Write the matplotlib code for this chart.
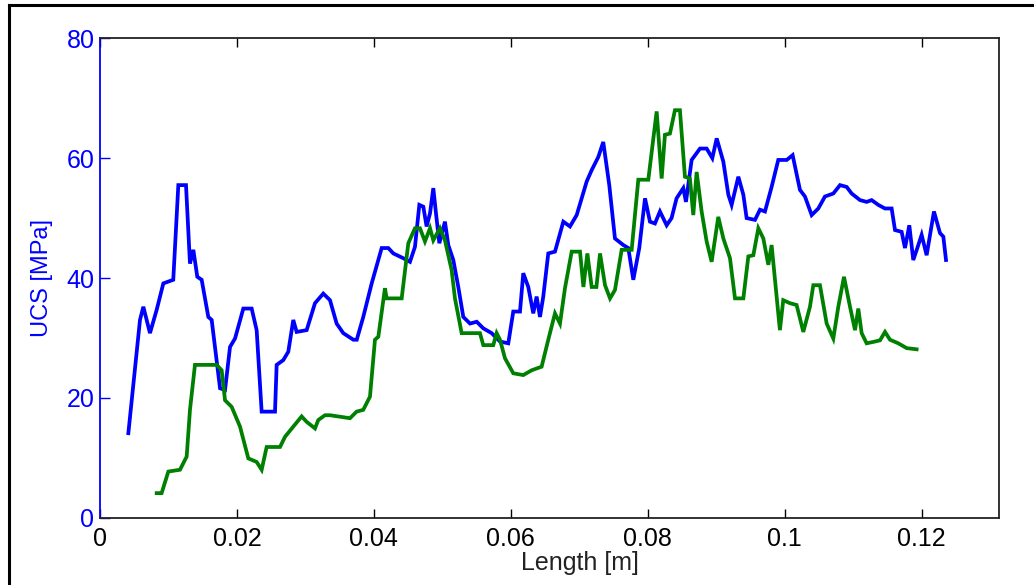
import matplotlib
matplotlib.use("Agg")
import matplotlib.pyplot as plt
from matplotlib.lines import Line2D

plt.rcParams['font.family'] = ['Liberation Sans', 'DejaVu Sans']

# Blue series: UCS along length
blue_x = [0.00414, 0.00584, 0.00633, 0.0073, 0.00828, 0.00925, 0.0107, 0.01144, 0.01256,
          0.01314, 0.01363, 0.01421, 0.01485, 0.01582, 0.01631, 0.01753, 0.01826, 0.01899,
          0.01972, 0.02093, 0.02215, 0.02288, 0.02361, 0.02556, 0.0258, 0.02677, 0.0275,
          0.02823, 0.02872, 0.03018, 0.0314, 0.03261, 0.03359, 0.03456, 0.03553, 0.037,
          0.0375, 0.03845, 0.03968, 0.04114, 0.04211, 0.04284, 0.0443, 0.04527, 0.046,
          0.04664, 0.04722, 0.0477, 0.0482, 0.04868, 0.04907, 0.04956, 0.05038, 0.05087,
          0.0516, 0.05233, 0.05306, 0.05404, 0.05502, 0.05598, 0.0572, 0.05842, 0.05963,
          0.06036, 0.06134, 0.06182, 0.06255, 0.06328, 0.06377, 0.06426, 0.06474, 0.06547,
          0.06645, 0.06767, 0.06864, 0.06962, 0.07035, 0.07108, 0.07181, 0.07278, 0.0735,
          0.07438, 0.07521, 0.07643, 0.07716, 0.07789, 0.07876, 0.0796, 0.08032, 0.08105,
          0.08178, 0.08276, 0.08348, 0.08421, 0.08519, 0.08558, 0.08641, 0.08763, 0.0886,
          0.08943, 0.09007, 0.09104, 0.09177, 0.09225, 0.09323, 0.09396, 0.09444, 0.09566,
          0.09639, 0.09712, 0.09809, 0.09906, 0.1003, 0.10116, 0.10223, 0.10296, 0.10394,
          0.10491, 0.10588, 0.1071, 0.10808, 0.10905, 0.10978, 0.111, 0.11197, 0.1127,
          0.11367, 0.11465, 0.11562, 0.11611, 0.11708, 0.11757, 0.1182, 0.11878, 0.11937,
          0.12, 0.12073, 0.1218, 0.12268, 0.12317, 0.12356]
blue_y = [14.1, 33.0, 35.2, 30.8, 34.7, 39.1, 39.7, 55.5, 55.5,
          42.4, 44.7, 40.2, 39.7, 33.5, 33.0, 21.6, 21.3, 28.5,
          29.9, 34.9, 34.9, 31.3, 17.7, 17.7, 25.5, 26.3, 27.7,
          33.0, 31.0, 31.3, 35.8, 37.4, 36.3, 32.4, 30.8, 29.7,
          29.7, 33.5, 39.1, 45.0, 45.0, 44.1, 43.3, 42.7, 45.2,
          52.2, 51.9, 48.6, 50.8, 55.0, 50.8, 45.8, 49.4, 45.5,
          43.0, 38.5, 33.5, 32.4, 32.7, 31.6, 30.8, 29.4, 29.1,
          34.4, 34.4, 40.8, 38.5, 34.1, 36.9, 33.5, 36.9, 44.1,
          44.4, 49.4, 48.6, 50.5, 53.3, 56.1, 58.0, 60.2, 62.7,
          55.5, 46.6, 45.5, 45.0, 39.7, 45.0, 53.3, 49.4, 49.1,
          51.1, 48.8, 50.0, 53.3, 55.0, 52.7, 59.7, 61.6, 61.6,
          60.0, 63.3, 59.4, 53.9, 52.2, 56.9, 53.9, 50.0, 49.7,
          51.4, 51.1, 55.2, 59.7, 59.7, 60.5, 54.7, 53.6, 50.5,
          51.6, 53.6, 54.1, 55.5, 55.2, 54.1, 53.0, 52.7, 53.0,
          52.2, 51.6, 51.6, 48.0, 47.7, 45.0, 48.8, 43.0, 45.0,
          47.2, 43.8, 51.1, 47.5, 46.9, 43.0]

# Green series
green_x = [0.00828, 0.009, 0.00998, 0.01168, 0.01266, 0.01314, 0.01387, 0.01704, 0.01777,
           0.01826, 0.01923, 0.02045, 0.02166, 0.02288, 0.02361, 0.02434, 0.02629, 0.02702,
           0.02823, 0.02945, 0.03018, 0.0314, 0.03188, 0.03286, 0.03359, 0.03651, 0.03748,
           0.03845, 0.03943, 0.04016, 0.04065, 0.04162, 0.04187, 0.04406, 0.04503, 0.046,
           0.04673, 0.04746, 0.0482, 0.04868, 0.04965, 0.05038, 0.05136, 0.05184, 0.05282,
           0.05549, 0.05598, 0.05744, 0.05793, 0.05842, 0.05915, 0.06036, 0.06182, 0.06304,
           0.0645, 0.06547, 0.06645, 0.06718, 0.06791, 0.06889, 0.07011, 0.0706, 0.07118,
           0.07181, 0.0725, 0.07303, 0.07376, 0.07449, 0.07521, 0.07619, 0.07765, 0.07862,
           0.08008, 0.0813, 0.08203, 0.08251, 0.08324, 0.08397, 0.0847, 0.08543, 0.08616,
           0.08665, 0.08714, 0.08787, 0.0886, 0.08933, 0.0903, 0.09104, 0.09201, 0.09274,
           0.09396, 0.09469, 0.09542, 0.09615, 0.09688, 0.09761, 0.09809, 0.0993, 0.09979,
           0.10076, 0.10174, 0.10272, 0.10369, 0.10418, 0.10515, 0.10613, 0.1071, 0.10783,
           0.10866, 0.10954, 0.11027, 0.11075, 0.11124, 0.11197, 0.11319, 0.11392, 0.11465,
           0.11538, 0.11659, 0.11781, 0.11927]
green_y = [4.1, 4.1, 7.7, 8.0, 10.2, 18.0, 25.5, 25.5, 24.6,
           19.6, 18.5, 15.2, 9.9, 9.3, 8.0, 11.8, 11.8, 13.5,
           15.2, 16.9, 16.0, 14.9, 16.3, 17.1, 17.1, 16.6, 17.7,
           18.0, 20.2, 29.7, 30.2, 38.3, 36.6, 36.6, 45.8, 48.3,
           48.3, 46.1, 48.3, 46.3, 48.3, 46.3, 41.3, 36.6, 30.8,
           30.8, 28.8, 28.8, 30.8, 29.7, 26.6, 24.1, 23.8, 24.6,
           25.2, 29.7, 34.1, 32.4, 38.3, 44.4, 44.4, 38.5, 44.1,
           38.5, 38.5, 44.1, 38.8, 36.6, 38.0, 44.7, 44.7, 56.4,
           56.4, 67.8, 56.6, 63.9, 64.1, 68.0, 68.0, 56.9, 56.6,
           50.5, 57.7, 51.1, 46.1, 42.7, 50.2, 46.6, 43.3, 36.6,
           36.6, 43.6, 43.8, 48.3, 46.6, 42.2, 45.5, 31.3, 36.3,
           35.8, 35.5, 31.0, 35.2, 38.8, 38.8, 32.4, 29.9, 35.2,
           40.2, 35.2, 31.3, 34.9, 30.8, 29.1, 29.4, 29.6, 31.0,
           29.7, 29.1, 28.3, 28.1]

x_ticks = [0, 0.02, 0.04, 0.06, 0.08, 0.1, 0.12]
x_tick_labels = ["0", "0.02", "0.04", "0.06", "0.08", "0.1", "0.12"]
y_ticks = [0, 20, 40, 60, 80]
y_tick_labels = ["0", "20", "40", "60", "80"]

W, H = 1034, 585
fig = plt.figure(figsize=(W / 100, H / 100), dpi=100)
ax = fig.add_axes([100 / W, 1 - 517.7 / H, (999 - 100) / W, (517.7 - 38.3) / H])

ax.plot(blue_x, blue_y, color=(0, 0, 1), lw=2.7, solid_joinstyle='miter')
ax.plot(green_x, green_y, color=(0, 0.5, 0), lw=2.7, solid_joinstyle='miter')

ax.set_xlim(0, 0.1313)
ax.set_ylim(0, 80)
ax.set_xticks(x_ticks)
ax.set_xticklabels(x_tick_labels)
ax.set_yticks(y_ticks)
ax.set_yticklabels(y_tick_labels)

ax.tick_params(axis='x', direction='in', length=6.5, width=1, top=True, bottom=True,
               labelsize=18, pad=7, colors='black')
ax.tick_params(axis='y', direction='in', length=7, width=1, left=True, right=False,
               labelsize=18, pad=4, colors=(0, 0, 1))
for s in ['top', 'right', 'bottom']:
    ax.spines[s].set_color('#222222')
    ax.spines[s].set_linewidth(1.3)
ax.spines['left'].set_color((0, 0, 1))
ax.spines['left'].set_linewidth(1.3)

ax.set_xlabel("Length [m]", fontsize=18, color='#222222')
ax.xaxis.set_label_coords((580 - 100) / 899, -(563 - 517.7) / (517.7 - 38.3))
ax.xaxis.label.set_va('center')
ax.set_ylabel("UCS [MPa]", fontsize=17, color=(0, 0, 1))
ax.yaxis.set_label_coords(-(100 - 42) / 899, 0.5)
ax.yaxis.label.set_va('center')

# outer frame (left and top edges visible)
fig.add_artist(Line2D([8.5 / W, 8.5 / W], [0, 1 - 4.5 / H], transform=fig.transFigure,
                      color='black', lw=2.2))
fig.add_artist(Line2D([8.5 / W, 1], [1 - 4.5 / H, 1 - 4.5 / H], transform=fig.transFigure,
                      color='black', lw=2.2))

fig.savefig("out.png", dpi=100)
